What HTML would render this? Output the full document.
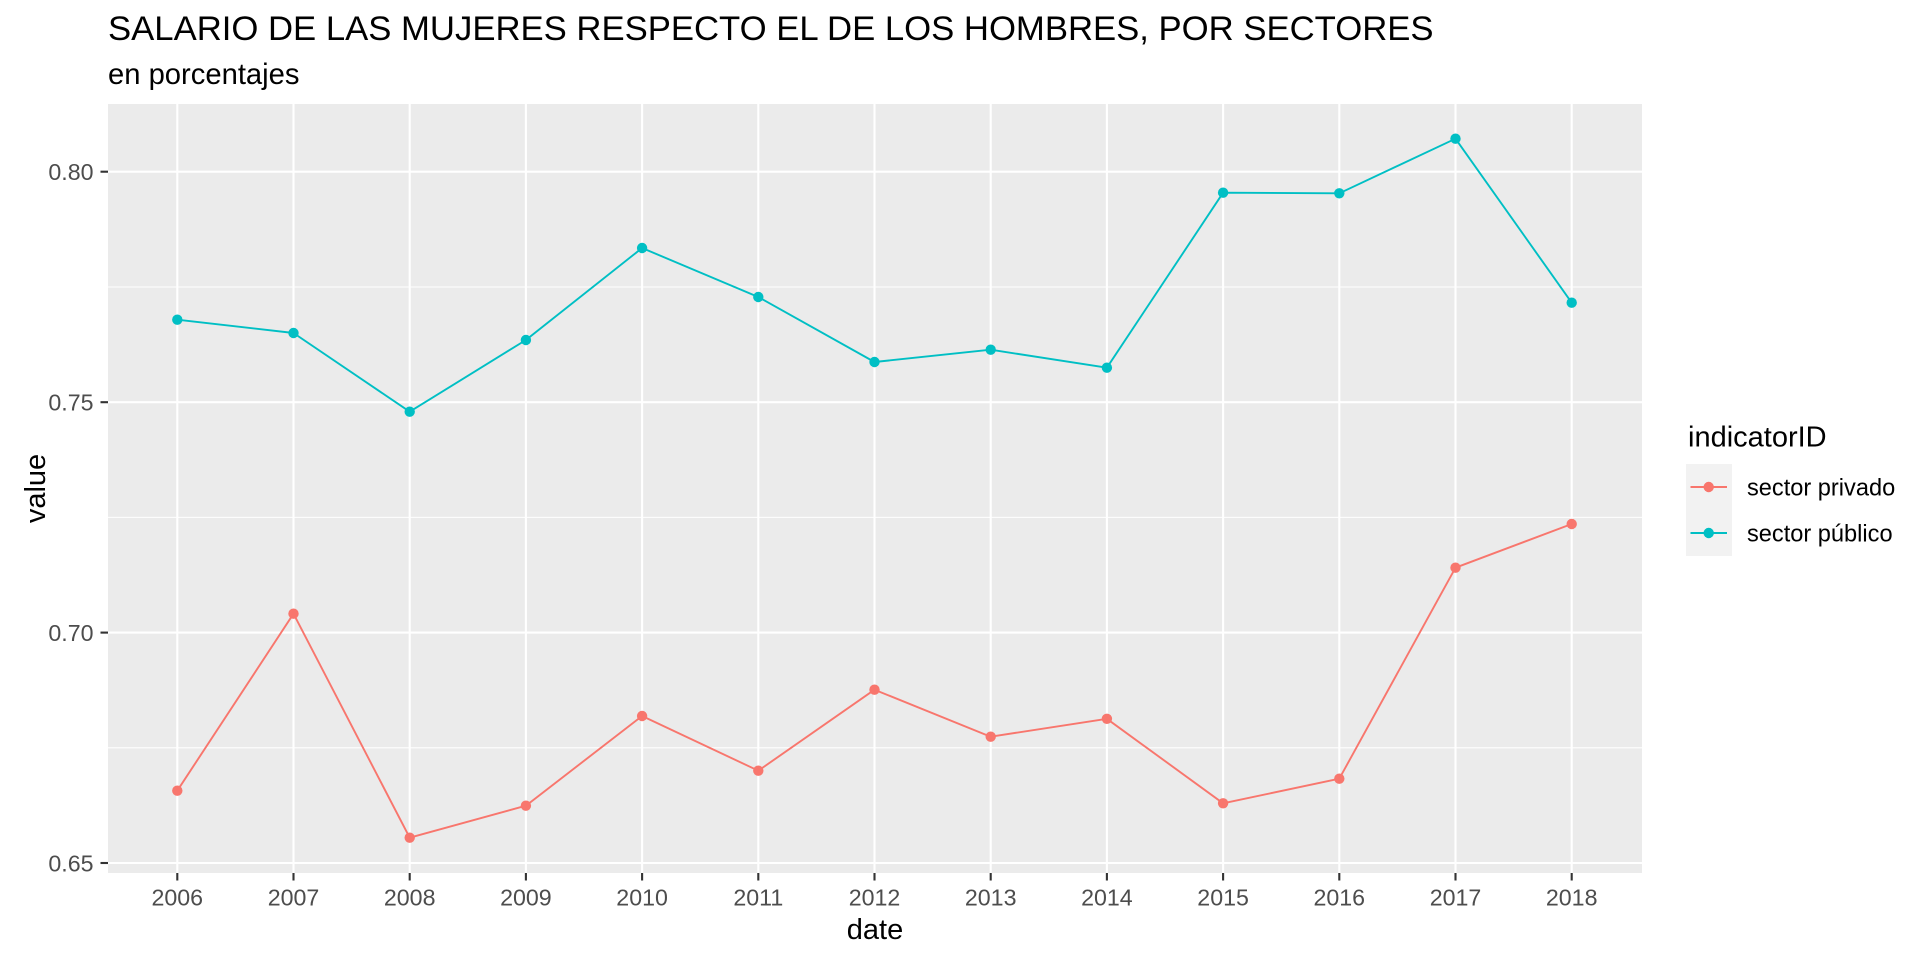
<!DOCTYPE html>
<html>
<head>
<meta charset="utf-8">
<style>
  html, body { margin: 0; padding: 0; background: #ffffff; }
  svg { display: block; }
  text { font-family: "Liberation Sans", Arial, sans-serif; }
</style>
</head>
<body>
<svg width="1920" height="960" viewBox="0 0 1920 960" xmlns="http://www.w3.org/2000/svg">
  <rect x="0" y="0" width="1920" height="960" fill="#ffffff"/>

  <!-- Title / subtitle -->
  <text x="108" y="40" font-size="34.7" fill="#000000">SALARIO DE LAS MUJERES RESPECTO EL DE LOS HOMBRES, POR SECTORES</text>
  <text x="108" y="84" font-size="29.2" fill="#000000">en porcentajes</text>

  <!-- Panel -->
  <rect x="108" y="104" width="1534" height="769" fill="#EBEBEB"/>

  <!-- Minor horizontal gridlines -->
  <g stroke="#ffffff" stroke-width="1.05">
    <line x1="108" x2="1642" y1="747.8" y2="747.8"/>
    <line x1="108" x2="1642" y1="517.4" y2="517.4"/>
    <line x1="108" x2="1642" y1="287.0" y2="287.0"/>
  </g>
  <!-- Major gridlines -->
  <g stroke="#ffffff" stroke-width="2.1">
    <line x1="108" x2="1642" y1="863" y2="863"/>
    <line x1="108" x2="1642" y1="632.6" y2="632.6"/>
    <line x1="108" x2="1642" y1="402.2" y2="402.2"/>
    <line x1="108" x2="1642" y1="171.7" y2="171.7"/>
    <line x1="177.3" x2="177.3" y1="104" y2="873"/>
    <line x1="293.5" x2="293.5" y1="104" y2="873"/>
    <line x1="409.7" x2="409.7" y1="104" y2="873"/>
    <line x1="525.9" x2="525.9" y1="104" y2="873"/>
    <line x1="642.1" x2="642.1" y1="104" y2="873"/>
    <line x1="758.3" x2="758.3" y1="104" y2="873"/>
    <line x1="874.5" x2="874.5" y1="104" y2="873"/>
    <line x1="990.7" x2="990.7" y1="104" y2="873"/>
    <line x1="1106.9" x2="1106.9" y1="104" y2="873"/>
    <line x1="1223.1" x2="1223.1" y1="104" y2="873"/>
    <line x1="1339.3" x2="1339.3" y1="104" y2="873"/>
    <line x1="1455.5" x2="1455.5" y1="104" y2="873"/>
    <line x1="1571.7" x2="1571.7" y1="104" y2="873"/>
  </g>

  <!-- Series: sector privado -->
  <polyline fill="none" stroke="#F8766D" stroke-width="1.9" stroke-linejoin="round"
    points="177.3,790.7 293.5,613.7 409.7,837.7 525.9,805.7 642.1,716 758.3,770.7 874.5,689.7 990.7,736.7 1106.9,718.8 1223.1,803.3 1339.3,778.7 1455.5,567.7 1571.7,524"/>
  <g fill="#F8766D">
    <circle cx="177.3" cy="790.7" r="5.2"/>
    <circle cx="293.5" cy="613.7" r="5.2"/>
    <circle cx="409.7" cy="837.7" r="5.2"/>
    <circle cx="525.9" cy="805.7" r="5.2"/>
    <circle cx="642.1" cy="716" r="5.2"/>
    <circle cx="758.3" cy="770.7" r="5.2"/>
    <circle cx="874.5" cy="689.7" r="5.2"/>
    <circle cx="990.7" cy="736.7" r="5.2"/>
    <circle cx="1106.9" cy="718.8" r="5.2"/>
    <circle cx="1223.1" cy="803.3" r="5.2"/>
    <circle cx="1339.3" cy="778.7" r="5.2"/>
    <circle cx="1455.5" cy="567.7" r="5.2"/>
    <circle cx="1571.7" cy="524" r="5.2"/>
  </g>

  <!-- Series: sector público -->
  <polyline fill="none" stroke="#00BFC4" stroke-width="1.9" stroke-linejoin="round"
    points="177.3,319.7 293.5,333 409.7,411.7 525.9,340 642.1,248 758.3,297 874.5,362 990.7,349.7 1106.9,367.7 1223.1,192.7 1339.3,193.3 1455.5,138.7 1571.7,302.7"/>
  <g fill="#00BFC4">
    <circle cx="177.3" cy="319.7" r="5.2"/>
    <circle cx="293.5" cy="333" r="5.2"/>
    <circle cx="409.7" cy="411.7" r="5.2"/>
    <circle cx="525.9" cy="340" r="5.2"/>
    <circle cx="642.1" cy="248" r="5.2"/>
    <circle cx="758.3" cy="297" r="5.2"/>
    <circle cx="874.5" cy="362" r="5.2"/>
    <circle cx="990.7" cy="349.7" r="5.2"/>
    <circle cx="1106.9" cy="367.7" r="5.2"/>
    <circle cx="1223.1" cy="192.7" r="5.2"/>
    <circle cx="1339.3" cy="193.3" r="5.2"/>
    <circle cx="1455.5" cy="138.7" r="5.2"/>
    <circle cx="1571.7" cy="302.7" r="5.2"/>
  </g>

  <!-- Axis ticks -->
  <g stroke="#333333" stroke-width="2.1">
    <line x1="100.5" x2="108" y1="863" y2="863"/>
    <line x1="100.5" x2="108" y1="632.6" y2="632.6"/>
    <line x1="100.5" x2="108" y1="402.2" y2="402.2"/>
    <line x1="100.5" x2="108" y1="171.7" y2="171.7"/>
    <line x1="177.3" x2="177.3" y1="873" y2="880.5"/>
    <line x1="293.5" x2="293.5" y1="873" y2="880.5"/>
    <line x1="409.7" x2="409.7" y1="873" y2="880.5"/>
    <line x1="525.9" x2="525.9" y1="873" y2="880.5"/>
    <line x1="642.1" x2="642.1" y1="873" y2="880.5"/>
    <line x1="758.3" x2="758.3" y1="873" y2="880.5"/>
    <line x1="874.5" x2="874.5" y1="873" y2="880.5"/>
    <line x1="990.7" x2="990.7" y1="873" y2="880.5"/>
    <line x1="1106.9" x2="1106.9" y1="873" y2="880.5"/>
    <line x1="1223.1" x2="1223.1" y1="873" y2="880.5"/>
    <line x1="1339.3" x2="1339.3" y1="873" y2="880.5"/>
    <line x1="1455.5" x2="1455.5" y1="873" y2="880.5"/>
    <line x1="1571.7" x2="1571.7" y1="873" y2="880.5"/>
  </g>

  <!-- Y tick labels -->
  <g font-size="23.2" fill="#4D4D4D" text-anchor="end">
    <text x="93.5" y="871.3">0.65</text>
    <text x="93.5" y="640.9">0.70</text>
    <text x="93.5" y="410.5">0.75</text>
    <text x="93.5" y="180">0.80</text>
  </g>

  <!-- X tick labels -->
  <g font-size="23.2" fill="#4D4D4D" text-anchor="middle">
    <text x="177.3" y="905.5">2006</text>
    <text x="293.5" y="905.5">2007</text>
    <text x="409.7" y="905.5">2008</text>
    <text x="525.9" y="905.5">2009</text>
    <text x="642.1" y="905.5">2010</text>
    <text x="758.3" y="905.5">2011</text>
    <text x="874.5" y="905.5">2012</text>
    <text x="990.7" y="905.5">2013</text>
    <text x="1106.9" y="905.5">2014</text>
    <text x="1223.1" y="905.5">2015</text>
    <text x="1339.3" y="905.5">2016</text>
    <text x="1455.5" y="905.5">2017</text>
    <text x="1571.7" y="905.5">2018</text>
  </g>

  <!-- Axis titles -->
  <text x="875" y="939" font-size="29" fill="#000000" text-anchor="middle">date</text>
  <text x="0" y="0" font-size="29" fill="#000000" text-anchor="middle" transform="translate(45,488.5) rotate(-90)">value</text>

  <!-- Legend -->
  <text x="1688" y="446.5" font-size="29" fill="#000000">indicatorID</text>
  <rect x="1686" y="464" width="46" height="92" fill="#F2F2F2"/>
  <line x1="1690.5" x2="1727" y1="487" y2="487" stroke="#F8766D" stroke-width="1.9"/>
  <circle cx="1708.7" cy="487" r="5.2" fill="#F8766D"/>
  <line x1="1690.5" x2="1727" y1="533" y2="533" stroke="#00BFC4" stroke-width="1.9"/>
  <circle cx="1708.7" cy="533" r="5.2" fill="#00BFC4"/>
  <text x="1747" y="495.5" font-size="23.6" fill="#000000">sector privado</text>
  <text x="1747" y="541.5" font-size="23.6" fill="#000000">sector público</text>
</svg>
</body>
</html>
